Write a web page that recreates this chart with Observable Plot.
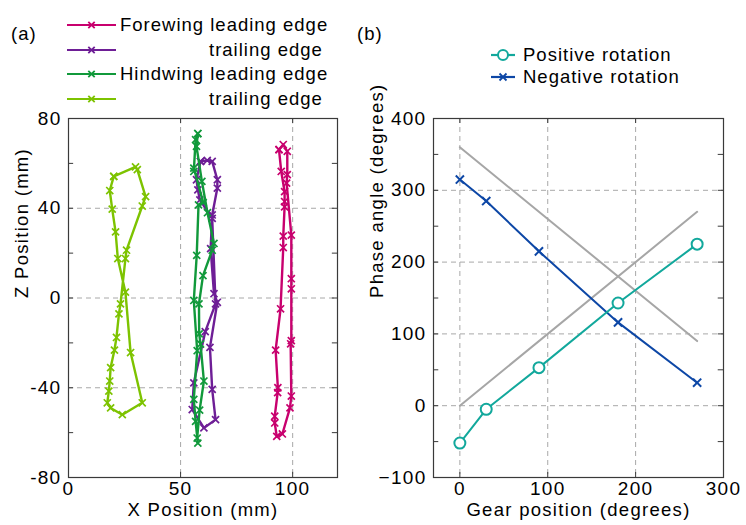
<!DOCTYPE html>
<html>
<head>
<meta charset="utf-8">
<script src="https://cdn.jsdelivr.net/npm/d3@7"></script>
<script src="https://cdn.jsdelivr.net/npm/@observablehq/plot@0.6"></script>
<style>
  html, body { margin: 0; padding: 0; background: #fff; }
  #chart { position: relative; width: 746px; height: 525px; overflow: hidden;
    font-family: "Liberation Sans", Arial, sans-serif; color: #000; }
  .abs { position: absolute; }
  .lbl { position: absolute; font-size: 18.5px; letter-spacing: 1px; line-height: 22px; white-space: nowrap; }
</style>
</head>
<body>
<div id="chart"></div>
<script>
// ---------- Panel (a): wing edge trajectories [X mm, Z mm] ----------
const forewingLeading = [
  [93.9,66.1],[94.9,56.4],[96.4,47.4],[96.4,43.0],[96.4,40.6],[95.8,27.6],[95.8,22.5],
  [94.6,-4.8],[92.4,-23.2],[93.4,-40.0],[93.3,-42.2],[92.0,-52.7],[92.0,-55.7],[92.9,-61.7],
  [95.4,-60.6],[98.8,-49.0],[99.4,-43.7],[99.1,-20.4],[99.4,-19.0],[99.4,4.1],[99.4,8.6],
  [99.4,28.0],[97.3,51.2],[97.6,55.0],[97.6,65.4],[95.8,68.4],[93.9,66.1]
];
const forewingTrailing = [
  [58.9,60.9],[61.9,61.3],[64.1,60.9],[66.4,52.7],[66.4,49.0],[64.1,37.0],[63.4,22.0],
  [64.9,1.9],[66.4,-1.9],[63.1,-22.0],[64.1,-40.7],[65.6,-54.2],[60.4,-57.9],[55.2,-49.7],
  [55.9,-37.8],[61.0,-15.0],[65.6,-2.6],[64.1,35.5],[58.6,43.7],[57.7,48.2],[57.1,52.7],[58.9,60.9]
];
const hindwingLeading = [
  [57.7,73.3],[57.1,67.6],[59.5,52.0],[62.0,38.0],[64.9,24.3],[64.1,21.3],[60.0,10.0],
  [58.2,-2.6],[58.3,-16.0],[58.9,-20.5],[60.4,-37.0],[58.5,-50.0],[57.4,-62.4],[57.7,-64.7],
  [56.7,-55.0],[55.9,-45.2],[57.4,-23.5],[55.9,-1.1],[57.2,19.0],[58.0,41.5],[60.1,42.5],
  [55.9,57.9],[55.9,56.4],[56.7,70.6],[57.7,73.3]
];
const hindwingTrailing = [
  [20.2,54.2],[29.9,58.4],[30.7,57.2],[34.4,45.2],[32.9,41.0],[25.9,21.3],[25.4,17.6],
  [23.2,-2.6],[22.5,-7.1],[21.4,-17.6],[20.5,-23.2],[18.8,-31.0],[18.4,-37.0],[18.0,-41.5],
  [17.3,-46.7],[18.8,-49.0],[24.0,-52.0],[32.9,-46.7],[27.7,-24.3],[25.4,2.6],[22.0,17.6],
  [21.0,29.5],[19.5,39.6],[18.4,47.9],[20.2,54.2]
];
const seriesNamesA = ["Forewing leading edge", "trailing edge", "Hindwing leading edge", "trailing edge"];
const seriesColorsA = ["#c8006e", "#6e1e96", "#11993b", "#7dc300"];
const xTicksA = [0, 50, 100];
const yTicksA = [80, 40, 0, -40, -80];
const yMinorA = [-80, -60, -40, -20, 0, 20, 40, 60, 80];
const xGridA = [50, 100];
const yGridA = [40, 0, -40];

// ---------- Panel (b): phase angle vs gear position ----------
const gearPosition = [0, 30, 90, 180, 270];
const positiveRotation = [-52, -5, 53, 143, 225];
const negativeRotation = [315, 285, 215, 116, 32];
const refGear = [0, 270];
const refPositive = [0, 270];
const refNegative = [360, 90];
const seriesNamesB = ["Positive rotation", "Negative rotation"];
const seriesColorsB = ["#12a89c", "#0d47a6"];
const xTicksB = [0, 100, 200, 300];
const yTicksB = [400, 300, 200, 100, 0, -100];
const yMinorB = [-100, -50, 0, 50, 100, 150, 200, 250, 300, 350, 400];
const xGridB = [0, 100, 200];
const yGridB = [300, 200, 100, 0];

const FONT = "'Liberation Sans', Arial, sans-serif";
const frameColor = "#3a3a3a";
const gridColor = "#a8a8a8";
const chart = document.getElementById("chart");

function baseStyle() {
  return {fontFamily: FONT, fontSize: "19px", letterSpacing: "1.3px", color: "#000",
          background: "transparent", overflow: "visible"};
}

// ---------- Panel (a) ----------
const xDomA = [0, 120], yDomA = [-80, 80];
const tkA = 2.3; // inward tick length in data units
const seriesA = [forewingTrailing, hindwingLeading, forewingLeading, hindwingTrailing];
const colorsA = [seriesColorsA[1], seriesColorsA[2], seriesColorsA[0], seriesColorsA[3]];
const marksA = [
  Plot.ruleX(xGridA, {x: d => d, stroke: gridColor, strokeDasharray: "5,4"}),
  Plot.ruleY(yGridA, {y: d => d, stroke: gridColor, strokeDasharray: "5,4"}),
  Plot.ruleY(yMinorA, {y: d => d, x1: xDomA[0], x2: xDomA[0] + tkA, stroke: frameColor}),
  Plot.ruleY(yMinorA, {y: d => d, x1: xDomA[1] - tkA, x2: xDomA[1], stroke: frameColor}),
  Plot.ruleX(xTicksA, {x: d => d, y1: yDomA[0], y2: yDomA[0] + tkA, stroke: frameColor}),
  Plot.ruleX(xTicksA, {x: d => d, y1: yDomA[1] - tkA, y2: yDomA[1], stroke: frameColor}),
  Plot.frame({stroke: frameColor, strokeWidth: 1.2})
];
seriesA.forEach((s, i) => {
  marksA.push(Plot.line(s, {x: d => d[0], y: d => d[1], stroke: colorsA[i], strokeWidth: 2.4, strokeLinejoin: "round"}));
  marksA.push(Plot.dot(s, {x: d => d[0], y: d => d[1], symbol: "times", r: 3.3, stroke: colorsA[i], strokeWidth: 1.7, fill: "none"}));
});
marksA.push(Plot.text(["X Position (mm)"], {frameAnchor: "bottom", dy: 38, text: d => d, fontSize: 18.5}));
marksA.push(Plot.text(["Z Position (mm)"], {frameAnchor: "left", dx: -46, rotate: -90, text: d => d, fontSize: 18.5}));

const panelA = Plot.plot({
  width: 373, height: 525,
  marginLeft: 68, marginRight: 36, marginTop: 118, marginBottom: 48,
  style: baseStyle(),
  x: {domain: xDomA, ticks: xTicksA, tickSize: 0, tickPadding: 4, label: null, tickFormat: d => String(d)},
  y: {domain: yDomA, ticks: yTicksA, tickSize: 0, tickPadding: 7, label: null, tickFormat: d => String(d)},
  marks: marksA
});
panelA.style.position = "absolute";
panelA.style.left = "0px";
panelA.style.top = "0px";
chart.appendChild(panelA);

// ---------- Panel (b) ----------
const xDomB = [-30, 300], yDomB = [-100, 400];
const tkBx = 6, tkBy = 7;
const posData = gearPosition.map((g, i) => ({g, v: positiveRotation[i]}));
const negData = gearPosition.map((g, i) => ({g, v: negativeRotation[i]}));
const refPosData = refGear.map((g, i) => ({g, v: refPositive[i]}));
const refNegData = refGear.map((g, i) => ({g, v: refNegative[i]}));
const panelB = Plot.plot({
  width: 373, height: 525,
  marginLeft: 60, marginRight: 23, marginTop: 118, marginBottom: 48,
  style: baseStyle(),
  x: {domain: xDomB, ticks: xTicksB, tickSize: 0, tickPadding: 4, label: null},
  y: {domain: yDomB, ticks: yTicksB, tickSize: 0, tickPadding: 7, label: null},
  marks: [
    Plot.ruleX(xGridB, {x: d => d, stroke: gridColor, strokeDasharray: "5,4"}),
    Plot.ruleY(yGridB, {y: d => d, stroke: gridColor, strokeDasharray: "5,4"}),
    Plot.ruleY(yMinorB, {y: d => d, x1: xDomB[0], x2: xDomB[0] + tkBx, stroke: frameColor}),
    Plot.ruleY(yMinorB, {y: d => d, x1: xDomB[1] - tkBx, x2: xDomB[1], stroke: frameColor}),
    Plot.ruleX(xGridB, {x: d => d, y1: yDomB[0], y2: yDomB[0] + tkBy, stroke: frameColor}),
    Plot.ruleX(xGridB, {x: d => d, y1: yDomB[1] - tkBy, y2: yDomB[1], stroke: frameColor}),
    Plot.frame({stroke: frameColor, strokeWidth: 1.2}),
    Plot.line(refPosData, {x: "g", y: "v", stroke: "#a6a6a6", strokeWidth: 2}),
    Plot.line(refNegData, {x: "g", y: "v", stroke: "#a6a6a6", strokeWidth: 2}),
    Plot.line(negData, {x: "g", y: "v", stroke: seriesColorsB[1], strokeWidth: 2}),
    Plot.dot(negData, {x: "g", y: "v", symbol: "times", r: 3.8, stroke: seriesColorsB[1], strokeWidth: 2, fill: "none"}),
    Plot.line(posData, {x: "g", y: "v", stroke: seriesColorsB[0], strokeWidth: 2}),
    Plot.dot(posData, {x: "g", y: "v", r: 5.5, stroke: seriesColorsB[0], strokeWidth: 2, fill: "white"}),
    Plot.text(["Gear position (degrees)"], {frameAnchor: "bottom", dy: 38, text: d => d, fontSize: 18.5}),
    Plot.text(["Phase angle (degrees)"], {frameAnchor: "left", dx: -56, rotate: -90, text: d => d, fontSize: 18.5})
  ]
});
panelB.style.position = "absolute";
panelB.style.left = "373px";
panelB.style.top = "0px";
chart.appendChild(panelB);

// ---------- Legends and panel letters (HTML) ----------
function addText(txt, left, centerY) {
  const d = document.createElement("div");
  d.className = "lbl";
  d.style.left = left + "px";
  d.style.top = (centerY - 11) + "px";
  d.textContent = txt;
  chart.appendChild(d);
}
function addSwatch(x0, x1, cy, color, kind) {
  const w = x1 - x0, mx = w / 2;
  const s = document.createElementNS("http://www.w3.org/2000/svg", "svg");
  s.setAttribute("width", w); s.setAttribute("height", 16);
  s.setAttribute("class", "abs");
  s.style.left = x0 + "px"; s.style.top = (cy - 8) + "px"; s.style.overflow = "visible";
  let inner = `<line x1="0" y1="8" x2="${w}" y2="8" stroke="${color}" stroke-width="2.2"/>`;
  if (kind === "circle") inner += `<circle cx="${mx}" cy="8" r="5" fill="white" stroke="${color}" stroke-width="2"/>`;
  else {
    const r = kind === "xs" ? 3.2 : 3.5;
    inner += `<path d="M${mx - r},${8 - r}L${mx + r},${8 + r}M${mx - r},${8 + r}L${mx + r},${8 - r}" stroke="${color}" stroke-width="1.8"/>`;
  }
  s.innerHTML = inner;
  chart.appendChild(s);
}
addText("(a)", 11, 34);
addText("(b)", 357, 34);
const rowsA = [25, 50, 74, 99];
const textXA = [120, 209, 120, 209];
seriesNamesA.forEach((n, i) => {
  addSwatch(67, 116, rowsA[i], seriesColorsA[i], "xs");
  addText(n, textXA[i], rowsA[i]);
});
const rowsB = [55, 77];
seriesNamesB.forEach((n, i) => {
  addSwatch(491, 515, rowsB[i], seriesColorsB[i], i === 0 ? "circle" : "x");
  addText(n, 523, rowsB[i]);
});
</script>
</body>
</html>
